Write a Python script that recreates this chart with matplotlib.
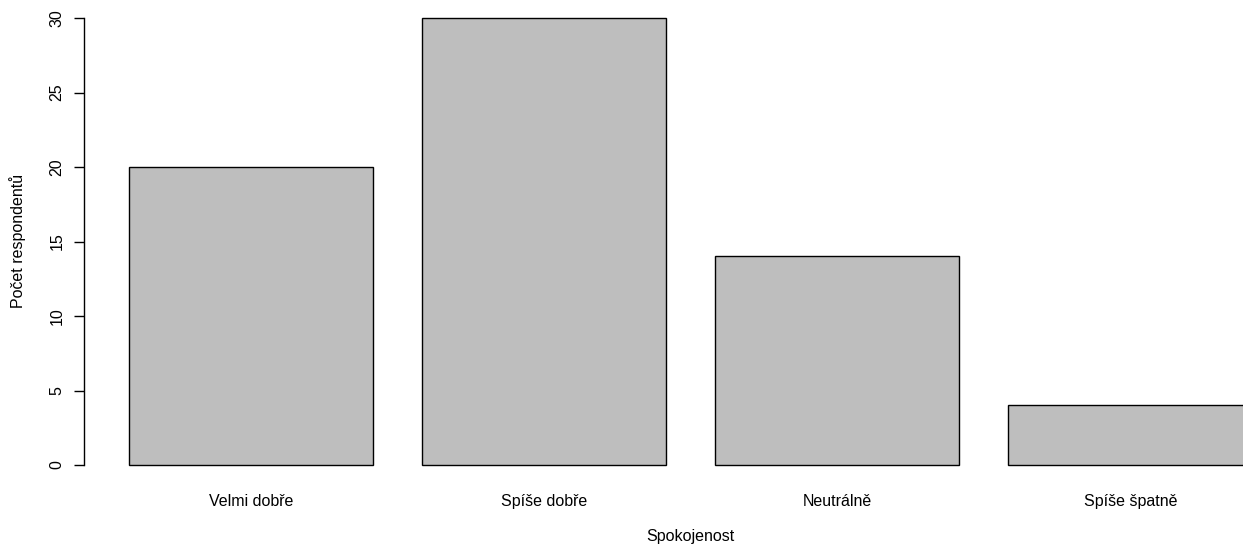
import matplotlib.pyplot as plt

plt.rcParams['font.family'] = ['Liberation Sans', 'DejaVu Sans']

categories = ["Velmi dobře", "Spíše dobře", "Neutrálně", "Spíše špatně"]
counts = [20, 30, 14, 4]

W, H = 1243, 546
fig = plt.figure(figsize=(W / 100, H / 100), dpi=100)

# R barplot: width 1, space 0.2, axes extended by 4%
x_unit = 244.2
x0_px = 80.2
left_px = x0_px + 0.016 * x_unit
right_px = x0_px + 4.984 * x_unit
y_unit = 14.9
bottom_px = 465 + 1.2 * y_unit
top_px = bottom_px - 32.4 * y_unit

ax = fig.add_axes([left_px / W, 1 - bottom_px / H,
                   (right_px - left_px) / W, (bottom_px - top_px) / H])

pos = [0.2 + 1.2 * i + 0.5 for i in range(len(counts))]
ax.bar(pos, counts, width=1.0, color="#bebebe", edgecolor="black", linewidth=1.0)

ax.set_xlim(0.016, 4.984)
ax.set_ylim(-1.2, 31.2)

for s in ["top", "right", "bottom"]:
    ax.spines[s].set_visible(False)
ax.spines["left"].set_bounds(0, 30)
ax.spines["left"].set_linewidth(1.0)

fs = 11.5
ax.set_yticks([0, 5, 10, 15, 20, 25, 30])
ax.set_yticklabels(["0", "5", "10", "15", "20", "25", "30"], rotation=90, va="center")
ax.tick_params(axis="y", length=7, width=1.0, pad=7, labelsize=fs)

ax.set_xticks(pos)
ax.set_xticklabels(categories)
ax.tick_params(axis="x", length=0, pad=8, labelsize=fs)

ax.set_xlabel("Spokojenost", fontsize=fs)
ax.set_ylabel("Počet respondentů", fontsize=fs)
ax.xaxis.label.set_va("center")
ax.yaxis.label.set_va("center")
ax.xaxis.set_label_coords((690 - left_px) / (right_px - left_px), -(537 - bottom_px) / (bottom_px - top_px))
ax.yaxis.set_label_coords(-(left_px - 18) / (right_px - left_px), (bottom_px - 241) / (bottom_px - top_px))

fig.savefig("out.png", dpi=100)
